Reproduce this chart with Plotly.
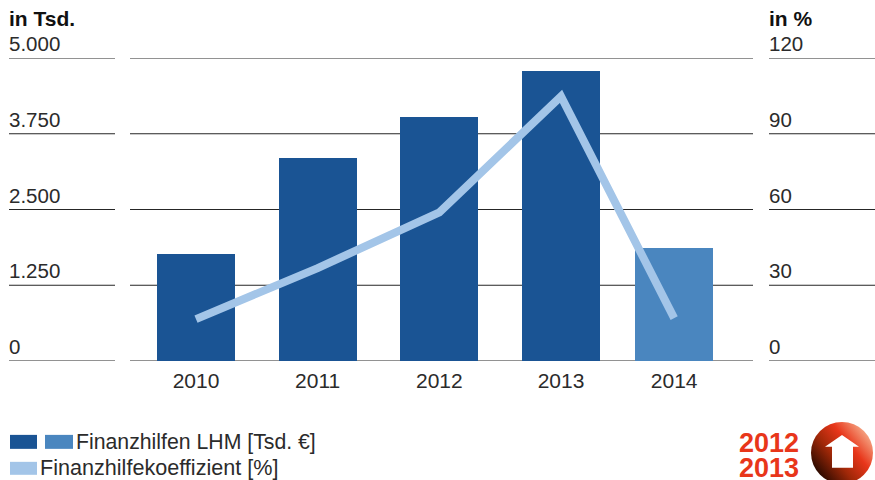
import base64
import plotly.graph_objects as go

years = ["2010", "2011", "2012", "2013", "2014"]
x_positions = [2010, 2011, 2012, 2013, 2013.93]
aid_values = [1763, 3344, 4020, 4778, 1862]
coefficient = [16.6, 36.8, 58.9, 104.8, 17]
left_ticks = [0, 1250, 2500, 3750, 5000]
left_labels = ["0", "1.250", "2.500", "3.750", "5.000"]
right_labels = ["0", "30", "60", "90", "120"]
DARK, MID, LIGHT, RED = "#1a5494", "#4a86bf", "#a3c5e8", "#e8361a"
FONT = "Liberation Sans"
TXT = "#2b2b2b"
W, H = 875, 480
L, R, T, B = 130, 753, 57.5, 361

fig = go.Figure()
fig.add_bar(x=x_positions, y=aid_values, width=0.641,
            marker=dict(color=[DARK, DARK, DARK, DARK, MID], line_width=0), showlegend=False)
fig.add_scatter(x=x_positions, y=coefficient, yaxis="y2", mode="lines",
                line=dict(color=LIGHT, width=8), showlegend=False)


def pxx(v):
    return (v - L) / (R - L)


def pyy(v):
    return (B - v) / (B - T)


shapes = []
annos = []
for t, ll, rl in zip(left_ticks, left_labels, right_labels):
    for a, b in ((9, 115), (130, 753), (769, 875)):
        shapes.append(dict(type="line", xref="paper", yref="y", layer="below",
                           x0=pxx(a), x1=pxx(b), y0=t, y1=t,
                           line=dict(color="#262626", width=1.2)))
    for xp, txt in ((9, ll), (769, rl)):
        annos.append(dict(xref="paper", yref="y", x=pxx(xp), y=t, text=txt, showarrow=False,
                          xanchor="left", yanchor="bottom", yshift=1, xshift=-2,
                          font=dict(family=FONT, size=20.5, color=TXT)))


def label(x, yc, text, size, color=TXT, bold=False):
    annos.append(dict(xref="paper", yref="paper", x=pxx(x), y=pyy(yc), text=f"<b>{text}</b>" if bold else text,
                      showarrow=False, xanchor="left", yanchor="middle",
                      xshift=-2, font=dict(family=FONT, size=size, color=color)))


label(9, 18, "in Tsd.", 21, "#111111", True)
label(769, 18, "in %", 21, "#111111", True)
label(76, 442, "Finanzhilfen LHM [Tsd. €]", 21.25)
label(40, 468, "Finanzhilfekoeffizient [%]", 21.6)
label(739, 443, "2012", 27, RED, True)
label(739, 468, "2013", 27, RED, True)


def rect(x0, y0, x1, y1, c):
    shapes.append(dict(type="rect", xref="paper", yref="paper", x0=pxx(x0), x1=pxx(x1),
                       y0=pyy(y0), y1=pyy(y1), fillcolor=c, line_width=0))


rect(10, 435, 37, 449, DARK)
rect(45, 435, 73, 449, MID)
rect(10, 462, 37, 475, LIGHT)

svg = ('<svg xmlns="http://www.w3.org/2000/svg" width="64" height="64" viewBox="0 0 64 64">'
       '<defs><linearGradient id="g" x1="0.95" y1="0.18" x2="0.12" y2="0.85">'
       '<stop offset="0" stop-color="#f6b08e"/><stop offset="0.35" stop-color="#e8361a"/>'
       '<stop offset="0.65" stop-color="#a02808"/><stop offset="1" stop-color="#2a0a00"/>'
       '</linearGradient></defs><circle cx="32" cy="32" r="31" fill="url(#g)"/>'
       '<path d="M32 14 L49 26 L43 26 L43 47 L22 47 L22 26 L15 26 Z" fill="#ffffff"/></svg>')
uri = "data:image/svg+xml;base64," + base64.b64encode(svg.encode()).decode()

fig.update_layout(
    width=W, height=H,
    margin=dict(l=L, r=W - R, t=T, b=H - B, pad=0),
    autosize=False, paper_bgcolor="white", plot_bgcolor="white", showlegend=False,
    bargap=0, shapes=shapes, annotations=annos,
    images=[dict(source=uri, xref="paper", yref="paper", x=pxx(810), y=pyy(421),
                 sizex=64 / (R - L), sizey=64 / (B - T), xanchor="left", yanchor="top",
                 sizing="stretch", layer="above")],
    xaxis=dict(range=[2010 - 66 / 121.67, 2010 + (R - 196) / 121.67], tickmode="array",
               tickvals=x_positions, ticktext=years, showgrid=False, zeroline=False, showline=False,
               ticks="outside", ticklen=1, tickcolor="rgba(0,0,0,0)",
               tickfont=dict(family=FONT, size=21, color=TXT)),
    yaxis=dict(range=[0, 5000], showticklabels=False, showgrid=False, zeroline=False, showline=False),
    yaxis2=dict(range=[0, 120], overlaying="y", side="right", showticklabels=False,
                showgrid=False, zeroline=False, showline=False),
)
fig.write_html("out.html", default_width=f"{W}px", default_height=f"{H}px",
               config={"displayModeBar": False},
               post_script="document.body.style.margin='0';")
